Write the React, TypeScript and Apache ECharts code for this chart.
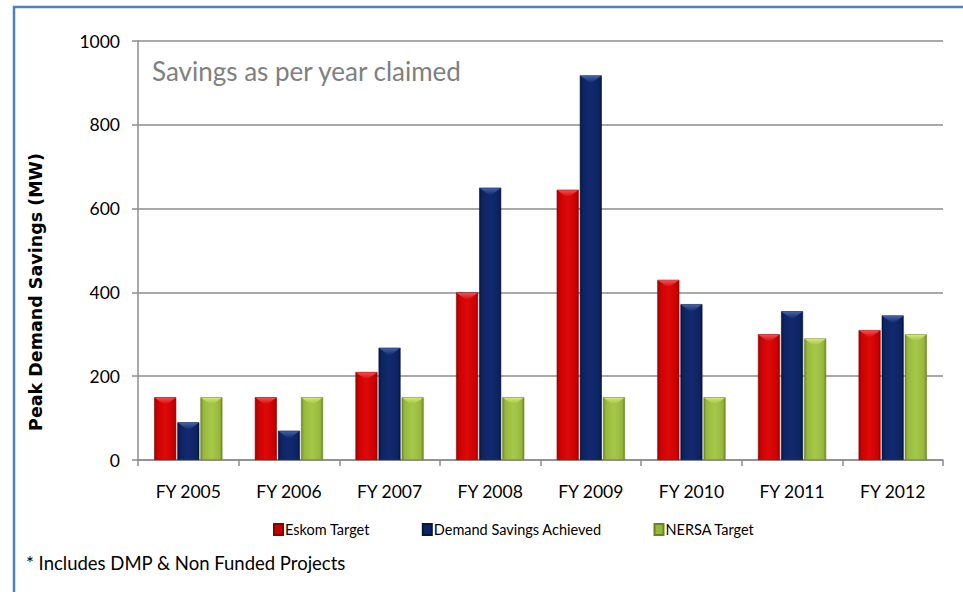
import React, { useEffect, useRef } from "react";
import * as echarts from "echarts";

const categories = ["FY 2005", "FY 2006", "FY 2007", "FY 2008", "FY 2009", "FY 2010", "FY 2011", "FY 2012"];
const eskomTarget = [150, 150, 210, 400, 645, 430, 300, 310];
const demandAchieved = [90, 70, 268, 650, 918, 372, 355, 345];
const nersaTarget = [150, 150, 150, 150, 150, 150, 290, 300];
const seriesNames = ["Eskom Target", "Demand Savings Achieved", "NERSA Target"];
const yTicks = { min: 0, max: 1000, interval: 200 };

const FONT = "Lato, 'Open Sans', sans-serif";

function grad(dark: string, mid: string, light: string) {
  return new echarts.graphic.LinearGradient(0, 0, 1, 0, [
    { offset: 0, color: dark },
    { offset: 0.12, color: mid },
    { offset: 0.5, color: light },
    { offset: 0.88, color: mid },
    { offset: 1, color: dark },
  ]);
}

export default function App() {
  const ref = useRef<HTMLDivElement>(null);
  useEffect(() => {
    if (!ref.current) return;
    const chart = echarts.init(ref.current, null, { renderer: "svg" });
    const colors = [
      { g: grad("#a00000", "#cc0000", "#dc0a0a"), b: "#8a0000", leg: "#c80000", hi: "#ff5a5a" },
      { g: grad("#061540", "#0d2463", "#13296f"), b: "#061540", leg: "#0d2463", hi: "#4a6cb8" },
      { g: grad("#6f8a26", "#96b83c", "#a6c84a"), b: "#6a8424", leg: "#96b83c", hi: "#dcf07a" },
    ];
    const data = [eskomTarget, demandAchieved, nersaTarget];
    const BW = 22;
    const GAP = 1.1;
    const bevels = data.map((d, i) => ({
      type: "custom",
      name: seriesNames[i] + " bevel",
      silent: true,
      z: 5,
      data: d.map((v, k) => [k, v]),
      renderItem: (params: any, api: any) => {
        const p = api.coord([api.value(0), api.value(1)]);
        const total = 3 * BW + 2 * GAP;
        const cx = p[0] - total / 2 + i * (BW + GAP) + BW / 2;
        const top = p[1];
        return {
          type: "polygon",
          shape: {
            points: [
              [cx - BW / 2 + 0.5, top + 0.5],
              [cx + BW / 2 - 0.5, top + 0.5],
              [cx, top + 8],
            ],
          },
          style: {
            fill: new echarts.graphic.LinearGradient(0, 0, 0, 1, [
              { offset: 0, color: colors[i].hi },
              { offset: 1, color: colors[i].leg },
            ]),
            opacity: 0.85,
          },
        };
      },
    }));
    chart.setOption({
      animation: false,
      backgroundColor: "#ffffff",
      grid: { left: 138, right: 20, top: 41, bottom: 132 },
      legend: {
        data: seriesNames.map((n, i) => ({ name: n, itemStyle: { color: colors[i].leg } })),
        left: 268,
        top: 517,
        itemWidth: 9,
        itemHeight: 11,
        itemGap: 52,
        icon: "rect",
        textStyle: { fontFamily: FONT, fontSize: 14.5, color: "#000", padding: [0, 0, 0, -3] },
      },
      xAxis: {
        type: "category",
        data: categories,
        axisLine: { lineStyle: { color: "#8c8c8c", width: 1.5 } },
        axisTick: { show: true, length: 6, alignWithLabel: false, lineStyle: { color: "#8c8c8c", width: 1.5 } },
        axisLabel: { fontFamily: FONT, fontSize: 17.5, color: "#000", margin: 22 },
      },
      yAxis: {
        type: "value",
        min: yTicks.min,
        max: yTicks.max,
        interval: yTicks.interval,
        axisLine: { show: true, lineStyle: { color: "#8c8c8c", width: 1.5 } },
        axisTick: { show: true, length: 6, inside: false, lineStyle: { color: "#8c8c8c", width: 1.5 } },
        axisLabel: { fontFamily: FONT, fontSize: 17.5, color: "#000", margin: 18, formatter: (v: number) => String(v) },
        splitLine: { lineStyle: { color: "#8c8c8c", width: 1.5 } },
      },
      series: [
        ...data.map((d, i) => ({
          name: seriesNames[i],
          type: "bar",
          data: d,
          barWidth: BW,
          barGap: "5%",
          itemStyle: { color: colors[i].g, borderColor: colors[i].b, borderWidth: 0.6 },
        })),
        ...bevels,
      ],
      graphic: [
        {
          type: "rect",
          silent: true,
          shape: { x: 14, y: 7, width: 980, height: 620 },
          style: { fill: "none", stroke: "#4f81bd", lineWidth: 2.5 },
          z: 100,
        },
        {
          type: "text",
          left: 152,
          top: 58,
          style: { text: "Savings as per year claimed", fontFamily: FONT, fontSize: 26, fill: "#808080" },
        },
        {
          type: "text",
          x: 36,
          y: 292,
          rotation: Math.PI / 2,
          style: {
            text: "Peak Demand Savings (MW)",
            fontFamily: "'DejaVu Sans', Verdana, sans-serif",
            fontWeight: "bold",
            fontSize: 17.5,
            fill: "#000",
            align: "center",
            verticalAlign: "middle",
          },
        },
        {
          type: "text",
          left: 26,
          top: 553,
          style: { text: "* Includes DMP & Non Funded Projects", fontFamily: FONT, fontSize: 18.5, fill: "#000" },
        },
      ],
    });
    return () => chart.dispose();
  }, []);
  return (
    <div
      ref={ref}
      style={{ position: "fixed", left: 0, top: 0, width: 963, height: 592, background: "#fff" }}
    />
  );
}
